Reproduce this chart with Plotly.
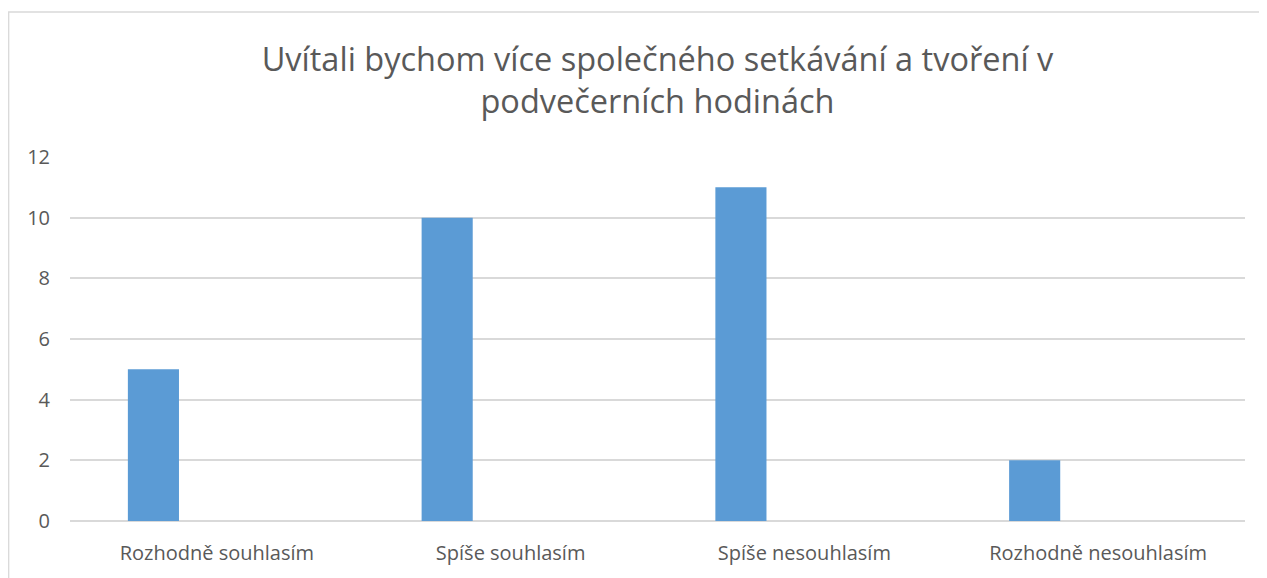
import plotly.graph_objects as go

categories = ["Rozhodně souhlasím", "Spíše souhlasím", "Spíše nesouhlasím", "Rozhodně nesouhlasím"]
values = [5, 10, 11, 2]
y_ticks = [0, 2, 4, 6, 8, 10, 12]
title_text = "Uvítali bychom více společného setkávání a tvoření v<br>podvečerních hodinách"

# page body has an 8px margin, so the figure is drawn slightly smaller
OFF = 8
W, H = 1267 - OFF, 578 - OFF
L, R, T, B = 70 - OFF, 22, 157 - OFF, 57
pw, ph = W - L - R, H - T - B

def px_x(x):
    return (x - OFF - L) / pw

def px_y(y):
    return (H - B - (y - OFF)) / ph

fig = go.Figure()
fig.add_trace(go.Bar(
    x=categories, y=values,
    marker=dict(color="#5B9BD5", line=dict(width=0)),
    width=0.174, offset=-0.303,
    hoverinfo="x+y",
))

font_family = "Open Sans, Liberation Sans, sans-serif"
fig.update_layout(
    width=W, height=H,
    margin=dict(l=L, r=R, t=T, b=B),
    paper_bgcolor="white", plot_bgcolor="white",
    showlegend=False,
    title=dict(text=title_text, x=0.5, xanchor="center", xref="paper",
               y=1 - (71 - OFF) / H, yanchor="middle",
               font=dict(family=font_family, size=32.5, color="#595959")),
    font=dict(family=font_family, color="#595959"),
    xaxis=dict(showgrid=False, showline=False, ticks="",
               tickfont=dict(size=20, color="#595959"), ticklabelstandoff=18),
    yaxis=dict(range=[0, 12], tickvals=y_ticks, showgrid=True,
               gridcolor="#d9d9d9", gridwidth=1.5, zeroline=True,
               zerolinecolor="#d9d9d9", zerolinewidth=1.5, showline=False,
               tickfont=dict(size=20, color="#595959"), ticklabelstandoff=19),
    shapes=[dict(type="rect", xref="paper", yref="paper",
                 x0=px_x(OFF + 0.7), x1=px_x(1267 + 5), y0=px_y(578 + 5), y1=px_y(12),
                 line=dict(color="#d9d9d9", width=1.3), layer="below")],
)

fig.write_html("out.html")
